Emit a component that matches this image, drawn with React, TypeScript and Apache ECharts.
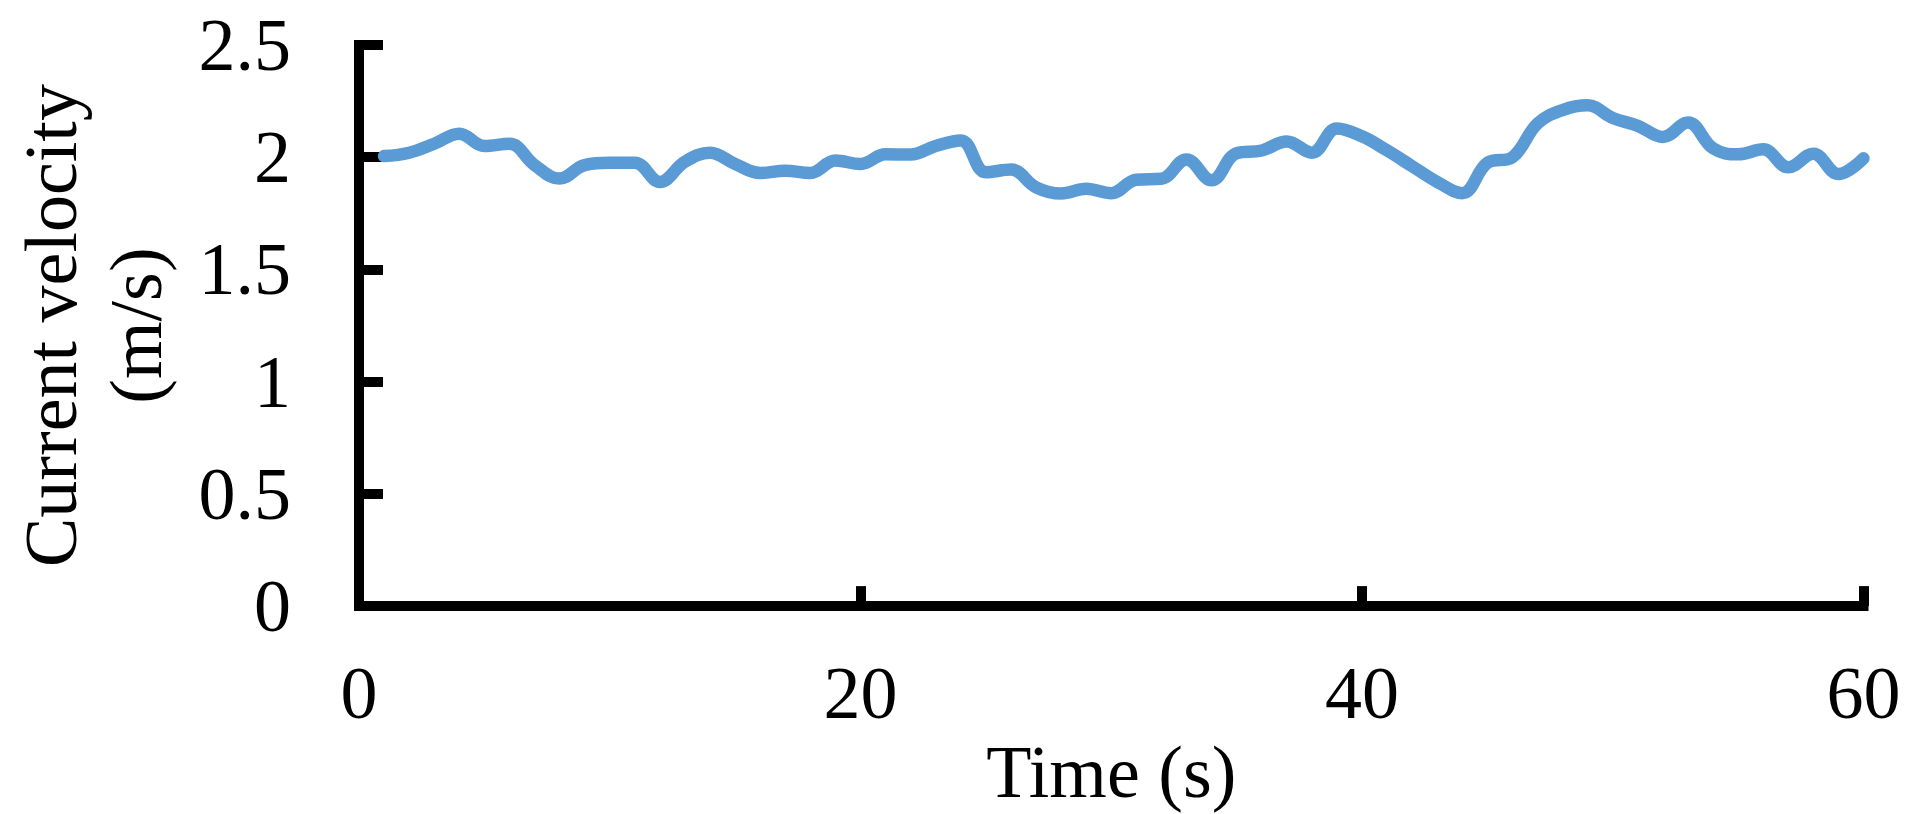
import React, { useEffect, useRef } from "react";
import * as echarts from "echarts";

const times: number[] = [
  1, 2, 3, 4, 5, 6, 7, 8, 9, 10, 11, 12, 13, 14, 15, 16, 17, 18, 19, 20,
  21, 22, 23, 24, 25, 26, 27, 28, 29, 30, 31, 32, 33, 34, 35, 36, 37, 38, 39, 40,
  41, 42, 43, 44, 45, 46, 47, 48, 49, 50, 51, 52, 53, 54, 55, 56, 57, 58, 59, 60,
];

const velocity: number[] = [
  2.005, 2.02, 2.06, 2.105, 2.05, 2.06, 1.965, 1.905, 1.965, 1.975,
  1.975, 1.89, 1.98, 2.02, 1.97, 1.93, 1.94, 1.93, 1.985, 1.97,
  2.013, 2.012, 2.05, 2.075, 1.933, 1.945, 1.866, 1.838, 1.86, 1.84,
  1.9, 1.904, 1.99, 1.897, 2.018, 2.03, 2.07, 2.02, 2.128, 2.093,
  2.03, 1.96, 1.89, 1.84, 1.975, 2.0, 2.15, 2.21, 2.231, 2.175,
  2.14, 2.09, 2.155, 2.04, 2.013, 2.035, 1.955, 2.015, 1.925, 1.995,
];

const xTicks = { min: 0, max: 60, interval: 20 };
const yTicks = { min: 0, max: 2.5, interval: 0.5 };

const xName = "Time (s)";
const yName = "Current velocity\n(m/s)";

const FONT = "'Liberation Serif', 'Times New Roman', serif";

export default function App() {
  const ref = useRef<HTMLDivElement>(null);

  useEffect(() => {
    if (!ref.current) return;
    const chart = echarts.init(ref.current, null, { renderer: "svg" });
    const axisLine = { show: true, lineStyle: { color: "#000", width: 10, cap: "square" } };
    chart.setOption({
      animation: false,
      backgroundColor: "#fff",
      grid: { left: 356, right: 55.5, top: 45, bottom: 196, containLabel: false },
      xAxis: {
        type: "value",
        min: xTicks.min,
        max: xTicks.max,
        interval: xTicks.interval,
        name: xName,
        nameLocation: "middle",
        nameGap: 97,
        nameTextStyle: { fontFamily: FONT, fontSize: 74, color: "#000" },
        axisLine,
        axisTick: { show: true, inside: true, length: 20, lineStyle: { color: "#000", width: 10 } },
        axisLabel: { fontFamily: FONT, fontSize: 74, color: "#000", margin: 50 },
        splitLine: { show: false },
      },
      yAxis: {
        type: "value",
        min: yTicks.min,
        max: yTicks.max,
        interval: yTicks.interval,
        name: yName,
        nameLocation: "middle",
        nameRotate: 90,
        nameGap: 181,
        nameTextStyle: { fontFamily: FONT, fontSize: 74, color: "#000", lineHeight: 85 },
        axisLine,
        axisTick: { show: true, inside: true, length: 24, lineStyle: { color: "#000", width: 10 } },
        axisLabel: { fontFamily: FONT, fontSize: 74, color: "#000", margin: 68 },
        splitLine: { show: false },
      },
      series: [
        {
          type: "line",
          data: times.map((t, i) => [t, velocity[i]]),
          smooth: 0.4,
          showSymbol: false,
          lineStyle: { color: "#5B9BD5", width: 12.5, cap: "round", join: "round" },
          itemStyle: { color: "#5B9BD5" },
        },
      ],
    });
    return () => chart.dispose();
  }, []);

  return (
    <div
      ref={ref}
      style={{ position: "fixed", left: 0, top: 0, width: 1919, height: 814, background: "#fff" }}
    />
  );
}
